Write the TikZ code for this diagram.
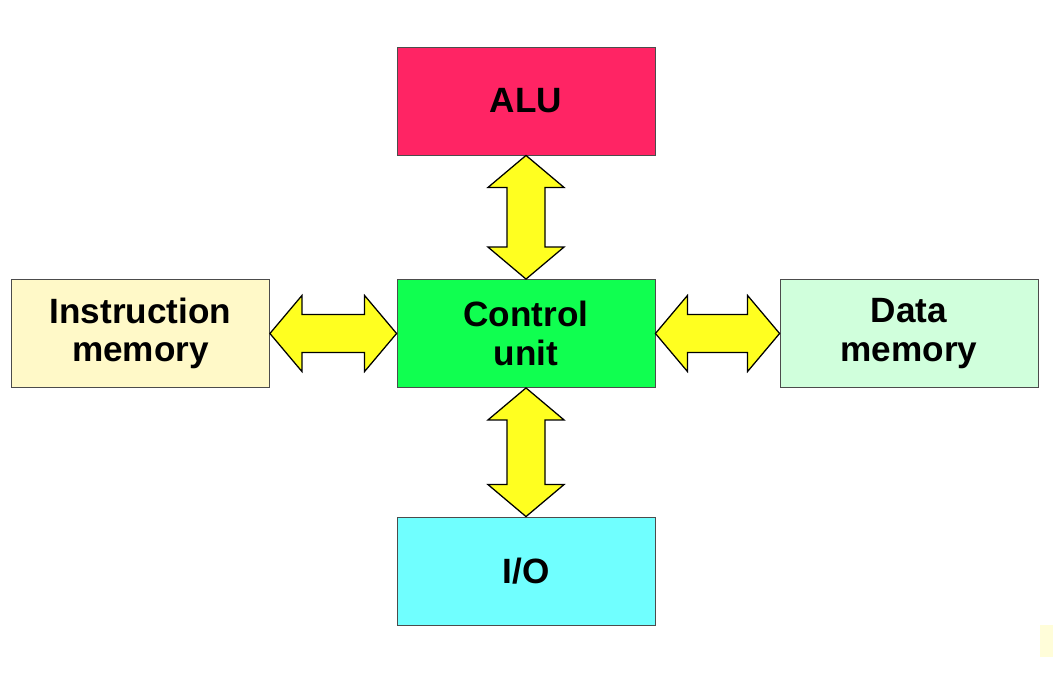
\documentclass[tikz,border=0pt]{standalone}
\usepackage{fontspec}
\setmainfont{Liberation Sans}
\usepackage{xcolor}
\usetikzlibrary{calc}

\definecolor{aluRed}{HTML}{FF2464}
\definecolor{cuGreen}{HTML}{10FF50}
\definecolor{imYellow}{HTML}{FFF9C8}
\definecolor{dmGreen}{HTML}{D0FFDC}
\definecolor{ioCyan}{HTML}{70FFFF}
\definecolor{busYellow}{HTML}{FFFF20}

\tikzset{
    unit/.style={draw=black!70, line width=0.6pt, minimum width=6.45cm, minimum height=2.7cm,
        align=center, font=\fontsize{25}{27.5}\selectfont\bfseries, inner sep=0pt},
    bus/.style={fill=busYellow, draw=black, line width=0.9pt, line join=miter}
}

\begin{document}
\begin{tikzpicture}
    \useasboundingbox (0,0) rectangle (26.325,16.825);
    \fill[white] (0,0) rectangle (26.325,16.825);
    \node[unit, fill=aluRed] (alu) at (13.15, 14.3) {ALU};
    \node[unit, fill=cuGreen] (cu) at (13.15, 8.4875) {Control\\unit};
    \node[unit, fill=imYellow] (im) at (3.5125, 8.4875) {Instruction\\memory};
    \node[unit, fill=dmGreen] (dm) at (22.725, 8.4875) {Data\\memory};
    \node[unit, fill=ioCyan] (io) at (13.15, 2.55) {I/O};
    % vertical buses
    \foreach \a/\b in {alu.south/cu.north, cu.south/io.north} {
        \draw[bus] (\a) -- ($(\a)+(-0.95,-0.8)$) -- ($(\a)+(-0.475,-0.8)$)
            -- ($(\b)+(-0.475,0.8)$) -- ($(\b)+(-0.95,0.8)$) -- (\b)
            -- ($(\b)+(0.95,0.8)$) -- ($(\b)+(0.475,0.8)$)
            -- ($(\a)+(0.475,-0.8)$) -- ($(\a)+(0.95,-0.8)$) -- cycle;
    }
    % horizontal buses
    \foreach \a/\b in {im.east/cu.west, cu.east/dm.west} {
        \draw[bus] (\a) -- ($(\a)+(0.8,0.95)$) -- ($(\a)+(0.8,0.475)$)
            -- ($(\b)+(-0.8,0.475)$) -- ($(\b)+(-0.8,0.95)$) -- (\b)
            -- ($(\b)+(-0.8,-0.95)$) -- ($(\b)+(-0.8,-0.475)$)
            -- ($(\a)+(0.8,-0.475)$) -- ($(\a)+(0.8,-0.95)$) -- cycle;
    }
    \fill[yellow!15] (26.0, 0.4) rectangle (26.325, 1.2);
\end{tikzpicture}
\end{document}
